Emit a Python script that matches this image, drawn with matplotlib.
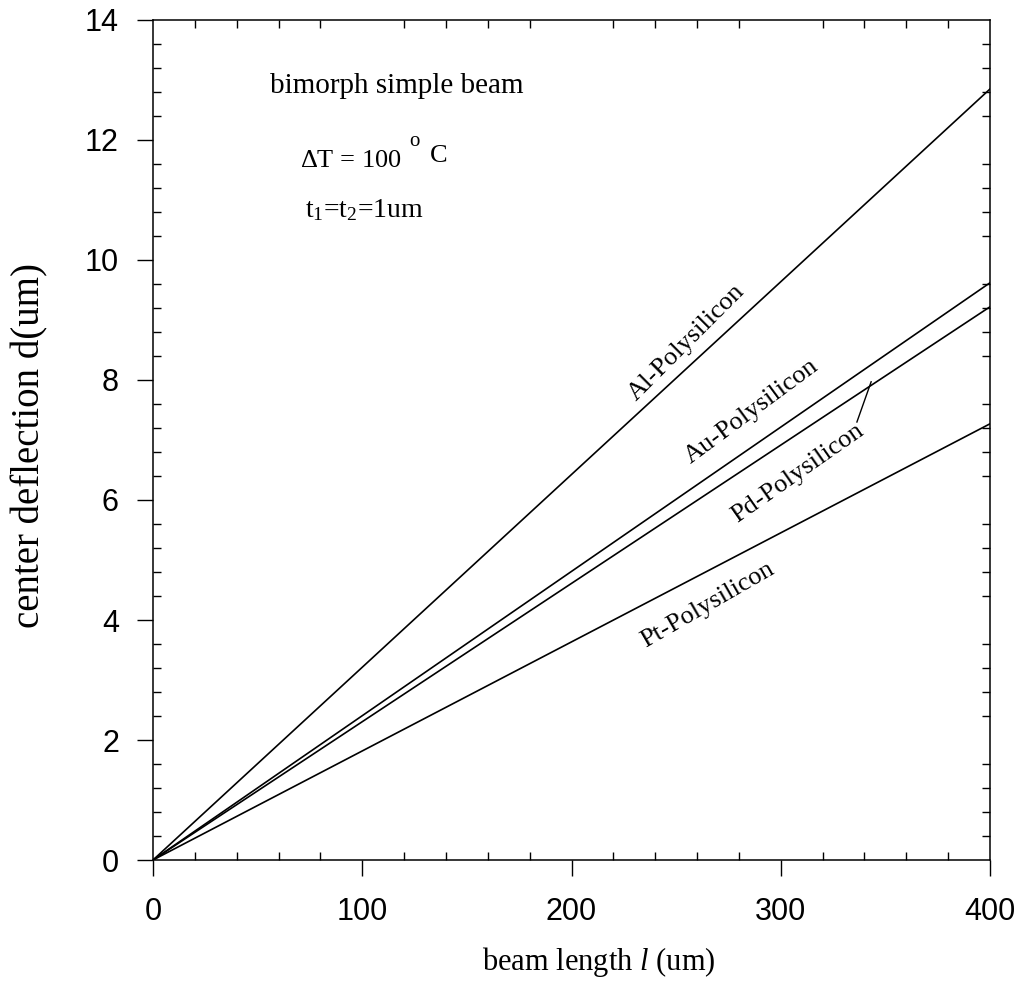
import matplotlib
matplotlib.use('Agg')
import matplotlib.pyplot as plt
from matplotlib.ticker import MultipleLocator

plt.rcParams['mathtext.fontset'] = 'custom'
plt.rcParams['mathtext.rm'] = 'Liberation Serif'
plt.rcParams['mathtext.it'] = 'Liberation Serif:italic'

# beam length (um) and center deflection at the end of the range (um)
beam_length = [0, 400]
materials = ['Al-Polysilicon', 'Au-Polysilicon', 'Pd-Polysilicon', 'Pt-Polysilicon']
end_deflection = [12.85, 9.62, 9.22, 7.27]

# label placement (data coords) and angle for each line
label_x = [255, 286, 308, 265]
label_y = [8.62, 7.47, 6.45, 4.25]
label_rot = [45, 36.5, 35, 30]

serif = 'Liberation Serif'
sans = 'Liberation Sans'

fig = plt.figure(figsize=(10.24, 10.08), dpi=100)
ax = fig.add_axes([153 / 1024, 1 - 860 / 1008, 837 / 1024, 840 / 1008])

for d in end_deflection:
    ax.plot(beam_length, [0, d], color='black', lw=1.2)

for name, x, y, r in zip(materials, label_x, label_y, label_rot):
    ax.text(x, y, name, rotation=r, ha='center', va='center',
            fontsize=19, family=serif)

# pointer from the Pd label to its line
ax.plot([336.4, 343.2], [7.3, 7.97], color='black', lw=1.0)

ax.set_xlim(0, 400)
ax.set_ylim(0, 14)
ax.xaxis.set_major_locator(MultipleLocator(100))
ax.xaxis.set_minor_locator(MultipleLocator(20))
ax.yaxis.set_major_locator(MultipleLocator(2))
ax.yaxis.set_minor_locator(MultipleLocator(0.4))

ax.tick_params(which='major', direction='out', length=11.5, width=1.0,
               top=False, right=False, labelsize=22)
ax.tick_params(which='minor', direction='in', length=6, width=1.0,
               top=True, right=True)
ax.tick_params(axis='x', which='major', pad=15)
ax.tick_params(axis='y', which='major', pad=13)
for lab in ax.get_xticklabels() + ax.get_yticklabels():
    lab.set_family(sans)
for s in ax.spines.values():
    s.set_linewidth(1.1)

fig.text(270 / 1024, 1 - 93 / 1008, 'bimorph simple beam', fontsize=21,
         family=serif, va='baseline')
fig.text(300 / 1024, 1 - 167 / 1008, r'$\Delta$T = 100', fontsize=19, family=serif,
         va='baseline')
fig.text(409 / 1024, 1 - 146 / 1008, 'o', fontsize=15, family=serif, va='baseline')
fig.text(430 / 1024, 1 - 162 / 1008, 'C', fontsize=19, family=serif, va='baseline')
fig.text(305 / 1024, 1 - 217 / 1008, r't$_\mathrm{1}$=t$_\mathrm{2}$=1um',
         fontsize=20, family=serif, va='baseline')

fig.text(599 / 1024, 1 - 962 / 1008, r'beam length $\mathit{l}$ (um)',
         fontsize=22, family=serif, ha='center', va='center')
fig.text(30 / 1024, 1 - 445 / 1008, 'center deflection d(um)', rotation=90,
         fontsize=28, family=serif, ha='center', va='center')

fig.savefig('out.png', dpi=100)
